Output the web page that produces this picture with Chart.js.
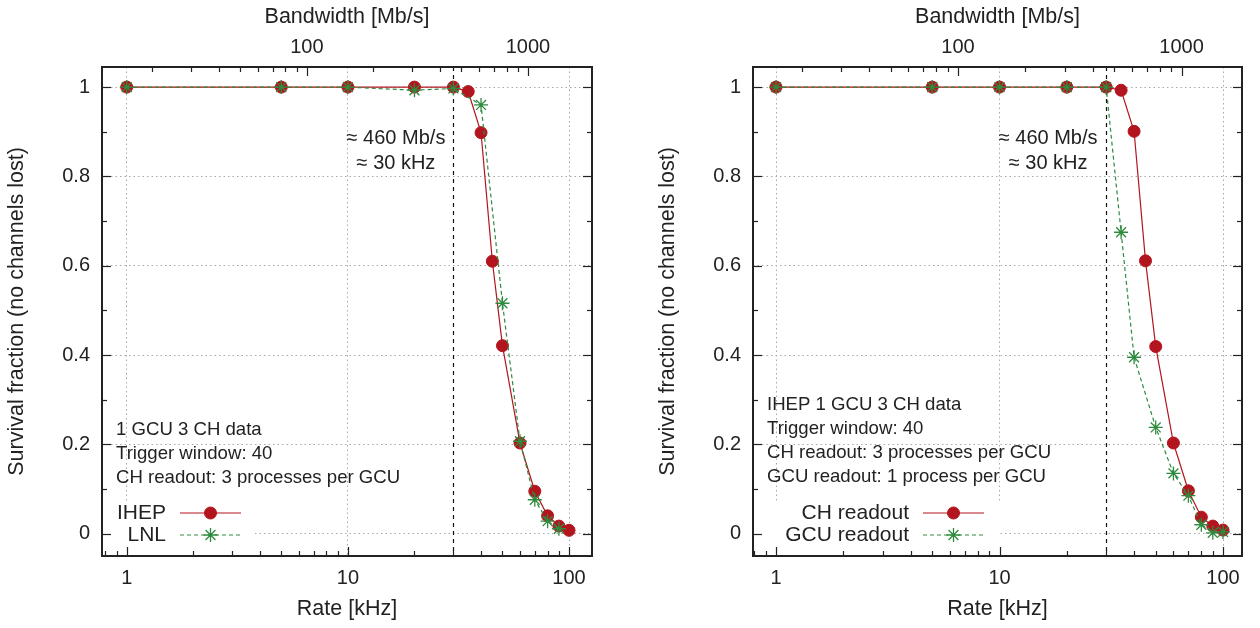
<!DOCTYPE html>
<html>
<head>
<meta charset="utf-8">
<script src="https://cdn.jsdelivr.net/npm/chart.js@4.4.1/dist/chart.umd.min.js"></script>
<style>
  html, body { margin: 0; padding: 0; background: #fff; }
  .panel { position: absolute; top: 0; width: 630px; height: 628px; }
</style>
</head>
<body>
<div class="panel" style="left:0"><canvas id="leftChart" width="630" height="628"></canvas></div>
<div class="panel" style="left:630px"><canvas id="rightChart" width="630" height="628"></canvas></div>
<script>
// Left panel: IHEP vs LNL
const ihepRates = [1, 5, 10, 20, 30, 35, 40, 45, 50, 60, 70, 80, 90, 100];
const ihepSurvival = [1, 1, 1, 1, 1, 0.990, 0.898, 0.610, 0.421, 0.203, 0.095, 0.040, 0.017, 0.0075];
const lnlRates = [1, 5, 10, 20, 30, 40, 50, 60, 70, 80, 90];
const lnlSurvival = [1, 1, 1, 0.993, 0.997, 0.960, 0.516, 0.207, 0.076, 0.028, 0.011];

// Right panel: CH readout vs GCU readout
const chRates = [1, 5, 10, 20, 30, 35, 40, 45, 50, 60, 70, 80, 90, 100];
const chSurvival = [1, 1, 1, 1, 1, 0.993, 0.901, 0.611, 0.419, 0.203, 0.096, 0.037, 0.017, 0.008];
const gcuRates = [1, 5, 10, 20, 30, 35, 40, 50, 60, 70, 80, 90, 100];
const gcuSurvival = [1, 1, 1, 1, 1, 0.675, 0.395, 0.238, 0.135, 0.085, 0.020, 0.002, 0.004];

// Axis ticks
const rateMajor = [1, 10, 100];
const rateMinor = [0.8, 0.9, 2, 3, 4, 5, 6, 7, 8, 9, 20, 30, 40, 50, 60, 70, 80, 90];
const bwMajor = [100, 1000];
const bwMinor = [20, 30, 40, 50, 60, 70, 80, 90, 200, 300, 400, 500, 600, 700, 800, 900];
const survivalMajor = [0, 0.2, 0.4, 0.6, 0.8, 1];
const survivalMinor = [0.1, 0.3, 0.5, 0.7, 0.9];

const cutoffRate = 30;          // kHz, ~460 Mb/s
const BW_PER_KHZ = 460 / 30;    // Mb/s per kHz

const RED = '#b3151f';
const GREEN = '#2e8b3e';
const INK = '#222222';
const FONT = '"Liberation Sans", Arial, Helvetica, sans-serif';

function toPoints(xs, ys) {
  return xs.map((x, i) => ({ x: x, y: ys[i] }));
}

// gnuplot-style frame with inward ticks
const frameTicks = {
  id: 'frameTicks',
  afterDraw(chart) {
    const { ctx, chartArea: a, scales } = chart;
    ctx.save();
    ctx.strokeStyle = INK;
    ctx.lineWidth = 1.2;
    const seg = (x1, y1, x2, y2) => {
      ctx.beginPath(); ctx.moveTo(x1, y1); ctx.lineTo(x2, y2); ctx.stroke();
    };
    const inX = (s, v) => v >= s.min && v <= s.max;
    rateMajor.concat(rateMinor).forEach(v => {
      if (!inX(scales.x, v)) return;
      const len = rateMajor.includes(v) ? 9 : 5;
      const x = Math.round(scales.x.getPixelForValue(v)) + 0.5;
      seg(x, a.bottom, x, a.bottom - len);
    });
    bwMajor.concat(bwMinor).forEach(v => {
      if (!inX(scales.x2, v)) return;
      const len = bwMajor.includes(v) ? 9 : 5;
      const x = Math.round(scales.x2.getPixelForValue(v)) + 0.5;
      seg(x, a.top, x, a.top + len);
    });
    survivalMajor.concat(survivalMinor).forEach(v => {
      const len = survivalMajor.includes(v) ? 9 : 5;
      const y = Math.round(scales.y.getPixelForValue(v)) + 0.5;
      seg(a.left, y, a.left + len, y);
      seg(a.right, y, a.right - len, y);
    });
    ctx.lineWidth = 2;
    ctx.strokeRect(a.left, a.top, a.right - a.left, a.bottom - a.top);
    ctx.restore();
  }
};

// dashed line at the cutoff rate
const cutoffLine = {
  id: 'cutoffLine',
  beforeDatasetsDraw(chart) {
    const { ctx, chartArea: a, scales } = chart;
    const x = Math.round(scales.x.getPixelForValue(cutoffRate)) + 0.5;
    ctx.save();
    ctx.strokeStyle = '#111';
    ctx.lineWidth = 1.2;
    ctx.setLineDash([4, 4]);
    ctx.beginPath(); ctx.moveTo(x, a.top); ctx.lineTo(x, a.bottom); ctx.stroke();
    ctx.restore();
  }
};

// text notes + opaque key box
const notesAndKey = {
  id: 'notesAndKey',
  afterDatasetsDraw(chart, args, opts) {
    const { ctx, chartArea: a, scales } = chart;
    ctx.save();

    // cutoff annotation
    ctx.fillStyle = INK;
    ctx.font = '20px ' + FONT;
    ctx.textAlign = 'center';
    ctx.textBaseline = 'middle';
    const cx = scales.x.getPixelForValue(16.5);
    ctx.fillText('\u2248 460 Mb/s', cx, scales.y.getPixelForValue(0.884));
    ctx.fillText('\u2248 30 kHz', cx, scales.y.getPixelForValue(0.828));

    // info block
    ctx.font = '18.6px ' + FONT;
    ctx.textAlign = 'left';
    opts.lines.forEach((t, i) => {
      ctx.fillText(t, a.left + 14, opts.linesTop + i * 24);
    });

    // key box
    ctx.fillStyle = '#fff';
    ctx.fillRect(a.left, opts.keyTop, opts.keyWidth, a.bottom - opts.keyTop);
    ctx.font = '21px ' + FONT;
    ctx.textAlign = 'right';
    chart.data.datasets.slice().reverse().forEach((ds, i) => {
      const y = 513 + i * 22;
      ctx.fillStyle = INK;
      ctx.fillText(ds.label, a.left + opts.textRight, y);
      const x0 = a.left + opts.textRight + 14;
      const x1 = x0 + 61;
      ctx.strokeStyle = ds.borderColor;
      ctx.lineWidth = ds.borderWidth;
      ctx.setLineDash(ds.borderDash || []);
      ctx.beginPath(); ctx.moveTo(x0, y); ctx.lineTo(x1, y); ctx.stroke();
      ctx.setLineDash([]);
      ctx.fillStyle = ds.pointBackgroundColor;
      ctx.strokeStyle = ds.pointBorderColor;
      ctx.lineWidth = ds.pointBorderWidth;
      Chart.helpers.drawPoint(ctx, {
        pointStyle: ds.pointStyle, radius: ds.pointRadius, rotation: 0, borderWidth: ds.pointBorderWidth
      }, (x0 + x1) / 2, y);
    });
    ctx.restore();
  }
};

function makeChart(canvasId, cfg) {
  const tickFont = { family: FONT, size: 20 };
  const titleFont = { family: FONT, size: 21.5 };
  const gridStyle = { drawTicks: false, color: '#a8a8a8', lineWidth: 1 };
  const gridBorder = { display: false, dash: [1.5, 3] };

  return new Chart(document.getElementById(canvasId), {
    type: 'line',
    data: {
      datasets: [
        {
          label: cfg.greenLabel,
          data: toPoints(cfg.greenRates, cfg.greenSurvival),
          borderColor: GREEN, borderWidth: 1.2, borderDash: [4, 3],
          pointStyle: 'star', pointRadius: 7, pointBorderWidth: 1.3,
          pointBorderColor: GREEN, pointBackgroundColor: GREEN,
          tension: 0, order: 1
        },
        {
          label: cfg.redLabel,
          data: toPoints(cfg.redRates, cfg.redSurvival),
          borderColor: RED, borderWidth: 1.2,
          pointStyle: 'circle', pointRadius: 6, pointBorderWidth: 1,
          pointBorderColor: RED, pointBackgroundColor: RED,
          tension: 0, order: 2
        }
      ]
    },
    options: {
      responsive: false,
      animation: false,
      layout: { padding: { left: cfg.padLeft, right: cfg.padRight, top: 0, bottom: 0 } },
      plugins: {
        legend: { display: false },
        tooltip: { enabled: false },
        notesAndKey: cfg.key
      },
      scales: {
        x: {
          type: 'logarithmic', position: 'bottom',
          min: cfg.rateMin, max: cfg.rateMax,
          afterBuildTicks: s => { s.ticks = rateMajor.map(v => ({ value: v })); },
          afterFit: s => { s.height = 72; },
          ticks: { callback: v => String(v), font: tickFont, color: INK, padding: 10, maxRotation: 0, autoSkip: false },
          grid: gridStyle,
          border: gridBorder,
          title: { display: true, text: 'Rate [kHz]', font: titleFont, color: INK, padding: { top: 4, bottom: 6 } }
        },
        x2: {
          type: 'logarithmic', position: 'top',
          min: cfg.rateMin * BW_PER_KHZ, max: cfg.rateMax * BW_PER_KHZ,
          afterBuildTicks: s => { s.ticks = bwMajor.map(v => ({ value: v })); },
          afterFit: s => { s.height = 67; },
          ticks: { callback: v => String(v), font: tickFont, color: INK, padding: 8, maxRotation: 0, autoSkip: false },
          grid: { display: false, drawTicks: false },
          border: { display: false },
          title: { display: true, text: 'Bandwidth [Mb/s]', font: titleFont, color: INK, padding: { top: 4, bottom: 4 } }
        },
        y: {
          type: 'linear', position: 'left',
          min: -0.05, max: 1.045,
          afterBuildTicks: s => { s.ticks = survivalMajor.map(v => ({ value: v })); },
          afterFit: s => { s.width = 102; },
          ticks: { callback: v => String(+v.toFixed(1)), font: tickFont, color: INK, padding: 12 },
          grid: gridStyle,
          border: gridBorder,
          title: { display: true, text: 'Survival fraction (no channels lost)', font: titleFont, color: INK, padding: { top: 4, bottom: 4 } }
        }
      }
    },
    plugins: [cutoffLine, notesAndKey, frameTicks]
  });
}

makeChart('leftChart', {
  redLabel: 'IHEP', redRates: ihepRates, redSurvival: ihepSurvival,
  greenLabel: 'LNL', greenRates: lnlRates, greenSurvival: lnlSurvival,
  rateMin: 0.773, rateMax: 127,
  padLeft: 0, padRight: 38,
  key: {
    lines: ['1 GCU 3 CH data', 'Trigger window: 40', 'CH readout: 3 processes per GCU'],
    linesTop: 430,
    keyTop: 501, keyWidth: 153, textRight: 64
  }
});

makeChart('rightChart', {
  redLabel: 'CH readout', redRates: chRates, redSurvival: chSurvival,
  greenLabel: 'GCU readout', greenRates: gcuRates, greenSurvival: gcuSurvival,
  rateMin: 0.789, rateMax: 121.6,
  padLeft: 21, padRight: 18,
  key: {
    lines: ['IHEP 1 GCU 3 CH data', 'Trigger window: 40', 'CH readout: 3 processes per GCU', 'GCU readout: 1 process per GCU'],
    linesTop: 405,
    keyTop: 503, keyWidth: 247, textRight: 156
  }
});
</script>
</body>
</html>
